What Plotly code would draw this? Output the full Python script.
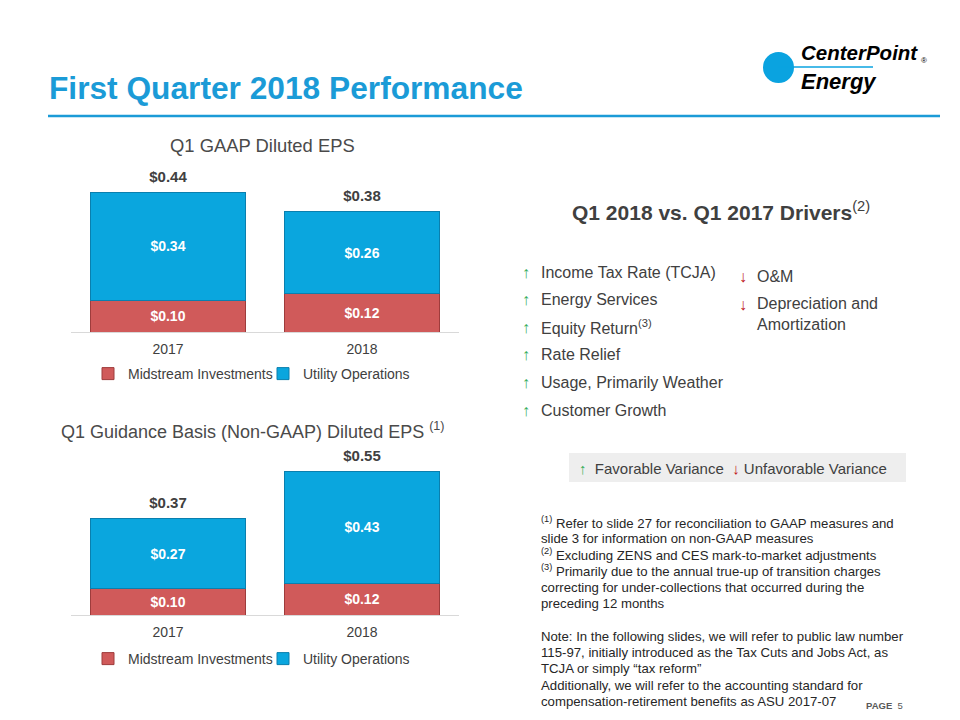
import plotly.graph_objects as go

# ---------------- data ----------------
years = ["2017", "2018"]
gaap_midstream = [0.10, 0.12]
gaap_utility = [0.34, 0.26]
guid_midstream = [0.10, 0.12]
guid_utility = [0.27, 0.43]
series_names = ["Midstream Investments", "Utility Operations"]

favorable = ["Income Tax Rate (TCJA)", "Energy Services", "Equity Return<sup>(3)</sup>",
             "Rate Relief", "Usage, Primarily Weather", "Customer Growth"]
unfavorable = ["O&M", "Depreciation and<br>Amortization"]

footnotes = [
    "<sup>(1)</sup> Refer to slide 27 for reconciliation to GAAP measures and",
    "slide 3 for information on non-GAAP measures",
    "<sup>(2)</sup> Excluding ZENS and CES mark-to-market adjustments",
    "<sup>(3)</sup> Primarily due to the annual true-up of transition charges",
    "correcting for under-collections that occurred during the",
    "preceding 12 months",
    "",
    "Note: In the following slides, we will refer to public law number",
    "115-97, initially introduced as the Tax Cuts and Jobs Act, as",
    "TCJA or simply \u201ctax reform\u201d",
    "Additionally, we will refer to the accounting standard for",
    "compensation-retirement benefits as ASU 2017-07",
]

# ---------------- styles ----------------
FONT = "Liberation Sans, Arial, sans-serif"
DARK = "#404040"
BLUE = "#0AA6DE"
BLUE_EDGE = "#0A7FAE"
RED = "#D05A5A"
RED_EDGE = "#9E3C3C"
TITLE_BLUE = "#1B9BD7"
W, H = 960, 720


def px(x):
    return x / W


def py(y):
    return 1 - y / H


fig = go.Figure()


def add_chart(mid, util, xa, ya, legend):
    totals = [round(a + b, 2) for a, b in zip(mid, util)]
    fig.add_trace(go.Bar(
        x=years, y=mid, name=series_names[0], xaxis=xa, yaxis=ya, legend=legend,
        marker=dict(color=RED, line=dict(color=RED_EDGE, width=1)),
        text=[f"${v:.2f}" for v in mid], textposition="inside", insidetextanchor="middle",
        textfont=dict(family=FONT, size=14, color="white", weight="bold"),
        hoverinfo="skip"))
    fig.add_trace(go.Bar(
        x=years, y=util, name=series_names[1], xaxis=xa, yaxis=ya, legend=legend,
        marker=dict(color=BLUE, line=dict(color=BLUE_EDGE, width=1)),
        text=[f"${v:.2f}" for v in util], textposition="inside", insidetextanchor="middle",
        textfont=dict(family=FONT, size=14, color="white", weight="bold"),
        hoverinfo="skip"))
    fig.add_trace(go.Scatter(
        x=years, y=totals, mode="markers+text", xaxis=xa, yaxis=ya, showlegend=False,
        marker=dict(size=8, color="rgba(0,0,0,0)"), cliponaxis=False,
        text=[f"${v:.2f}" for v in totals], textposition="top center",
        textfont=dict(family=FONT, size=15, color=DARK, weight="bold"),
        hoverinfo="skip"))


add_chart(gaap_midstream, gaap_utility, "x", "y", "legend")
add_chart(guid_midstream, guid_utility, "x2", "y2", "legend2")

axis_x = dict(showline=True, linecolor="#D9D9D9", linewidth=1, showgrid=False,
              ticks="outside", ticklen=4, tickcolor="rgba(0,0,0,0)",
              tickfont=dict(family=FONT, size=14, color=DARK), fixedrange=True)
axis_y = dict(visible=False, showgrid=False, zeroline=False, fixedrange=True)

fig.update_layout(
    width=W, height=H, margin=dict(l=0, r=0, t=0, b=0),
    paper_bgcolor="white", plot_bgcolor="white",
    barmode="stack", bargap=0.2,
    font=dict(family=FONT, color=DARK),
    xaxis=dict(domain=[px(71), px(459)], anchor="y", **axis_x),
    yaxis=dict(domain=[py(332), py(173)], range=[0, 0.5], anchor="x", **axis_y),
    xaxis2=dict(domain=[px(71), px(459)], anchor="y2", **axis_x),
    yaxis2=dict(domain=[py(615), py(458)], range=[0, 0.6], anchor="x2", **axis_y),
    legend=dict(orientation="h", x=px(88), y=py(374), xanchor="left", yanchor="middle",
                font=dict(family=FONT, size=14, color=DARK), entrywidth=130,
                traceorder="normal", bgcolor="rgba(0,0,0,0)"),
    legend2=dict(orientation="h", x=px(88), y=py(659), xanchor="left", yanchor="middle",
                 font=dict(family=FONT, size=14, color=DARK), entrywidth=130,
                 traceorder="normal", bgcolor="rgba(0,0,0,0)"),
    showlegend=True,
)

shapes = []
annotations = []

# header line
shapes.append(dict(type="line", xref="paper", yref="paper", x0=px(48), x1=px(940),
                   y0=py(116), y1=py(116), line=dict(color=TITLE_BLUE, width=2.5)))
# title
annotations.append(dict(text="<b>First Quarter 2018 Performance</b>", x=px(47), y=py(88),
                        xanchor="left", yanchor="middle",
                        font=dict(family=FONT, size=31.7, color=TITLE_BLUE)))
# logo
LOGO_FONT = "Liberation Sans, Arial, sans-serif"
shapes.append(dict(type="circle", xref="paper", yref="paper",
                   x0=px(763), x1=px(794), y0=py(52), y1=py(83),
                   fillcolor="#0AA3E0", line=dict(width=0)))
shapes.append(dict(type="line", xref="paper", yref="paper", x0=px(778), x1=px(873),
                   y0=py(67), y1=py(67), line=dict(color="#0AA3E0", width=1.5)))
annotations.append(dict(text="<b><i>CenterPoint</i></b>", x=px(799), y=py(53), xanchor="left",
                        yanchor="middle", font=dict(family=LOGO_FONT, size=20.5, color="black")))
annotations.append(dict(text="<b><i>Energy</i></b>", x=px(799), y=py(81), xanchor="left",
                        yanchor="middle", font=dict(family=LOGO_FONT, size=22, color="black")))
annotations.append(dict(text="\u00ae", x=px(919), y=py(60), xanchor="left", yanchor="middle",
                        font=dict(family=FONT, size=8, color="black")))

# chart titles
annotations.append(dict(text="Q1 GAAP Diluted EPS", x=px(262), y=py(146), xanchor="center",
                        yanchor="middle", font=dict(family=FONT, size=18.4, color="#4A4A4A")))
annotations.append(dict(text="Q1 Guidance Basis (Non-GAAP) Diluted EPS <sup>(1)</sup>",
                        x=px(253), y=py(430), xanchor="center", yanchor="middle",
                        font=dict(family=FONT, size=18, color="#4A4A4A")))

# drivers title
annotations.append(dict(text="<b>Q1 2018 vs. Q1 2017 Drivers</b><sup>(2)</sup>",
                        x=px(570), y=py(211), xanchor="left", yanchor="middle",
                        font=dict(family=FONT, size=21, color=DARK)))

GREEN = "#3AAE5C"
DRED = "#C0161B"
fav_y0, fav_step = 272, 27.6
for i, t in enumerate(favorable):
    yy = fav_y0 + i * fav_step
    annotations.append(dict(text="<b>\u2191</b>", x=px(526), y=py(yy), xanchor="center",
                            yanchor="middle", font=dict(family=FONT, size=16, color=GREEN)))
    annotations.append(dict(text=t, x=px(539), y=py(yy), xanchor="left", yanchor="middle",
                            font=dict(family=FONT, size=16, color=DARK)))
unf_y = [276, 304]
for i, t in enumerate(unfavorable):
    yy = unf_y[i]
    annotations.append(dict(text="<b>\u2193</b>", x=px(743), y=py(yy), xanchor="center",
                            yanchor="middle", font=dict(family=FONT, size=16, color=DRED)))
    annotations.append(dict(text=t, x=px(755), y=py(yy), xanchor="left",
                            yanchor="top" if i else "middle",
                            yshift=11 if i else 0, align="left",
                            font=dict(family=FONT, size=16, color=DARK)))

# variance key box
shapes.append(dict(type="rect", xref="paper", yref="paper", x0=px(569), x1=px(906),
                   y0=py(482), y1=py(453), fillcolor="#EEEEEE", line=dict(width=0),
                   layer="below"))
annotations.append(dict(
    text=f"<span style='color:{GREEN}'>\u2191</span>  Favorable Variance  "
         f"<span style='color:{DRED}'><b>\u2193</b></span> Unfavorable Variance",
    x=px(577), y=py(468), xanchor="left", yanchor="middle",
    font=dict(family=FONT, size=15, color=DARK)))

# footnotes
fn_y0, fn_step = 522, 16.3
for i, t in enumerate(footnotes):
    if not t:
        continue
    annotations.append(dict(text=t, x=px(539), y=py(fn_y0 + i * fn_step), xanchor="left",
                            yanchor="middle", font=dict(family=FONT, size=13.2, color="#262626")))

# page number
annotations.append(dict(text="<b>PAGE</b>  5", x=px(864), y=py(705), xanchor="left",
                        yanchor="middle", font=dict(family=FONT, size=9.5, color="#595959")))

for a in annotations:
    a.setdefault("xref", "paper")
    a.setdefault("yref", "paper")
    a.setdefault("showarrow", False)

fig.update_layout(shapes=shapes, annotations=annotations)
fig.write_html("out.html", config={"displayModeBar": False})
